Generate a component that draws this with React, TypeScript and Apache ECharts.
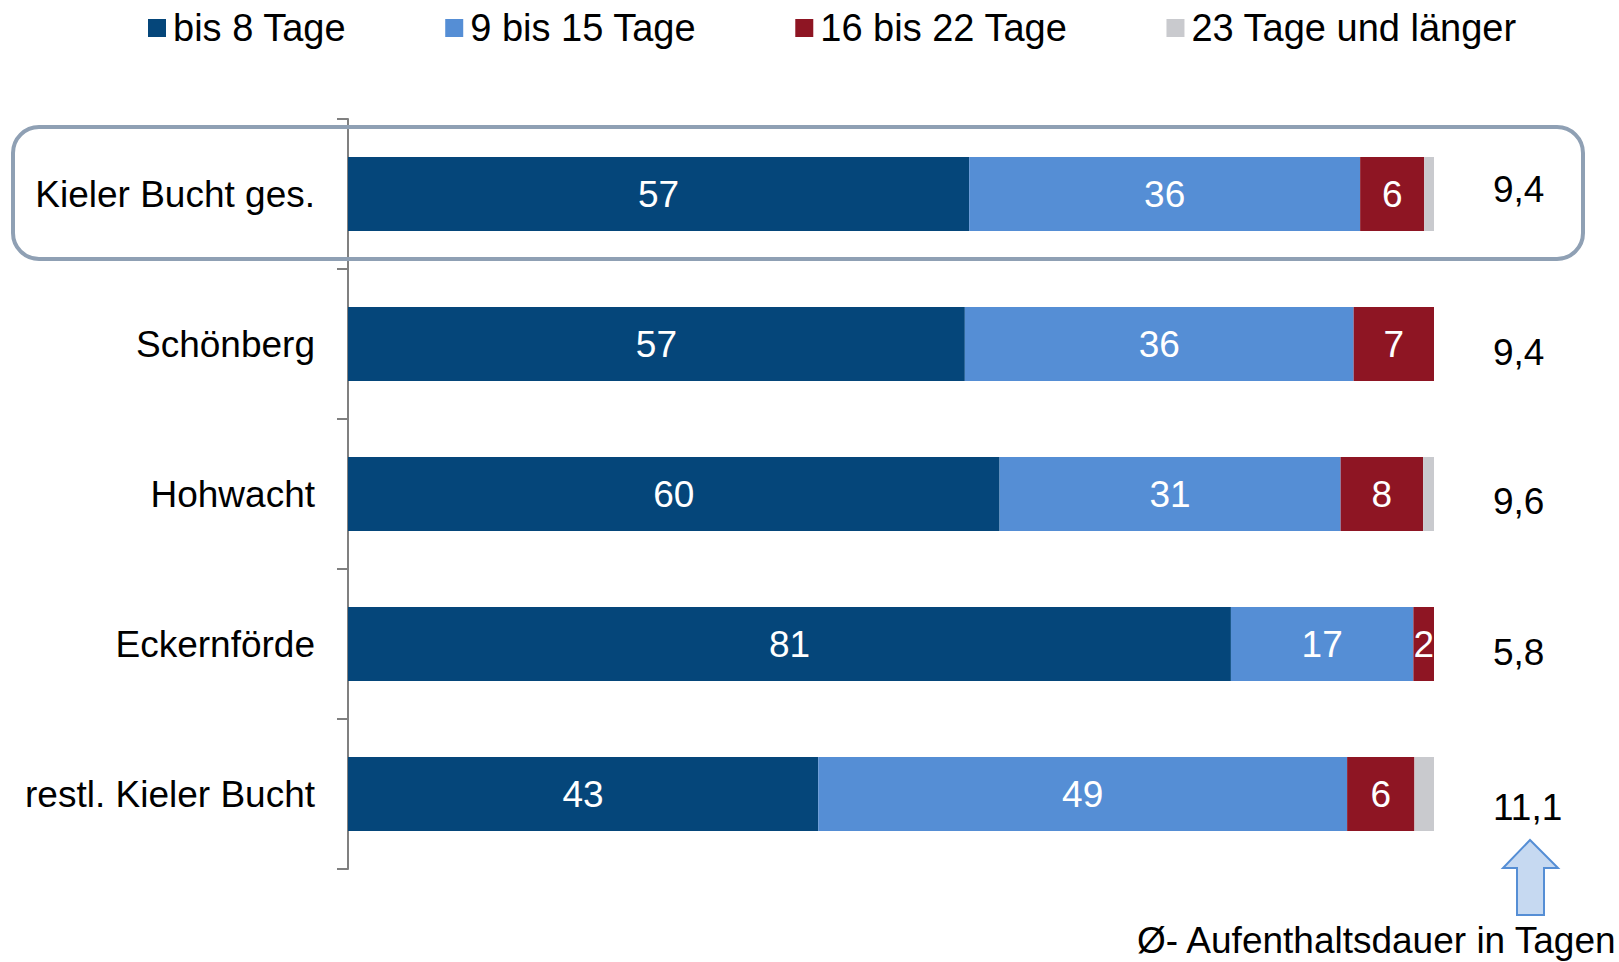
import React, { useEffect, useRef } from "react";
import * as echarts from "echarts";

const categories = ["Kieler Bucht ges.", "Schönberg", "Hohwacht", "Eckernförde", "restl. Kieler Bucht"];
const seriesNames = ["bis 8 Tage", "9 bis 15 Tage", "16 bis 22 Tage", "23 Tage und länger"];
const upTo8 = [57.2, 56.8, 60.0, 81.3, 43.3];
const from9to15 = [36.0, 35.8, 31.4, 16.8, 48.7];
const from16to22 = [5.9, 7.4, 7.6, 1.9, 6.2];
const from23 = [0.9, 0, 1.0, 0, 1.8];
const avgStay = ["9,4", "9,4", "9,6", "5,8", "11,1"];
const avgShift = [-5, 8, 7, 8, 13];
const footnote = "Ø- Aufenthaltsdauer in Tagen";

const colors = ["#05467A", "#558ED5", "#8E1523", "#C9CACE"];
const FONT = "Liberation Sans, Arial, sans-serif";

export default function App() {
  const ref = useRef<HTMLDivElement>(null);
  useEffect(() => {
    document.body.style.margin = "0";
    if (!ref.current) return;
    const chart = echarts.init(ref.current, null, { renderer: "svg" });
    const values = [upTo8, from9to15, from16to22, from23];
    const series = values.map((v, i) => ({
      name: seriesNames[i],
      type: "bar",
      stack: "total",
      barWidth: 74,
      data: v,
      itemStyle: { color: colors[i] },
      label: {
        show: i < 3,
        position: "inside",
        color: "#fff",
        fontSize: 37,
        fontFamily: FONT,
        formatter: (p: any) => String(Math.round(p.value)),
      },
    }));
    const rich: Record<string, any> = {};
    avgShift.forEach((s, i) => {
      rich["r" + i] = {
        fontSize: 37,
        fontFamily: FONT,
        color: "#000",
        padding: s >= 0 ? [s * 2, 0, 0, 0] : [0, 0, -s * 2, 0],
      };
    });
    chart.setOption({
      animation: false,
      textStyle: { fontFamily: FONT },
      color: colors,
      legend: {
        top: 4,
        left: 143,
        itemWidth: 18,
        itemHeight: 18,
        itemGap: 99,
        icon: "rect",
        data: seriesNames,
        textStyle: { fontSize: 38, color: "#000", fontFamily: FONT, padding: [0, 0, 0, 2] },
      },
      grid: { left: 348, right: 185, top: 119, bottom: 93 },
      xAxis: { type: "value", min: 0, max: 100, show: false },
      yAxis: [
        {
          type: "category",
          inverse: true,
          data: categories,
          axisLine: { show: true, lineStyle: { color: "#808080", width: 2 } },
          axisTick: { show: true, length: 11, lineStyle: { color: "#808080", width: 2 } },
          axisLabel: { fontSize: 37, color: "#000", margin: 33, fontFamily: FONT },
        },
        {
          type: "category",
          inverse: true,
          position: "right",
          data: avgStay,
          axisLine: { show: false },
          axisTick: { show: false },
          axisLabel: {
            fontSize: 37,
            color: "#000",
            margin: 59,
            fontFamily: FONT,
            formatter: (v: string, i: number) => `{r${i}|${v}}`,
            rich,
          },
        },
      ],
      series,
      graphic: [
        {
          type: "rect",
          shape: { x: 13, y: 127, width: 1570, height: 132, r: 26 },
          style: { fill: "transparent", stroke: "#8FA0B4", lineWidth: 4 },
          z: 10,
        },
        {
          type: "polygon",
          shape: {
            points: [
              [1530, 840],
              [1503, 868],
              [1517, 868],
              [1517, 915],
              [1544, 915],
              [1544, 868],
              [1558, 868],
            ],
          },
          style: { fill: "#C6D9F1", stroke: "#558ED5", lineWidth: 2 },
        },
        {
          type: "text",
          x: 1137,
          y: 940,
          style: {
            text: footnote,
            fontSize: 37,
            fontFamily: FONT,
            fill: "#000",
            verticalAlign: "middle",
            align: "left",
          },
        },
      ],
    });
    return () => chart.dispose();
  }, []);
  return <div ref={ref} style={{ width: 1619, height: 962 }} />;
}
